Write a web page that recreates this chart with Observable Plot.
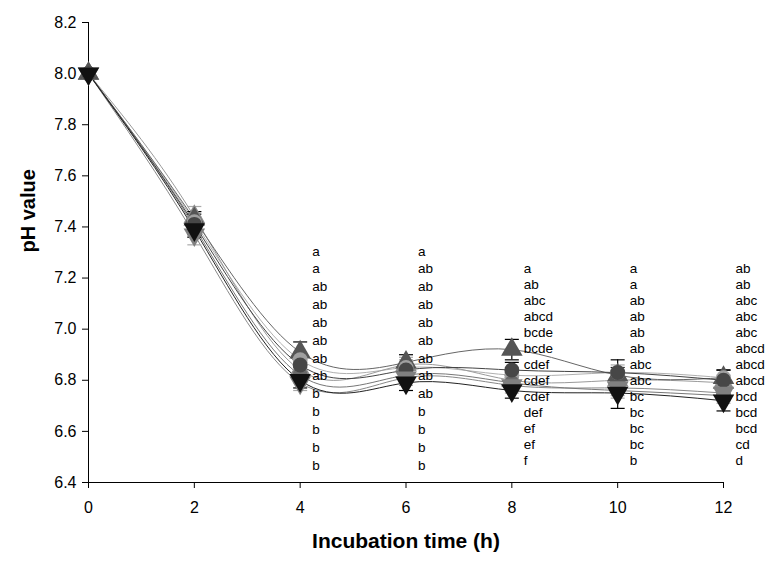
<!DOCTYPE html>
<html><head><meta charset="utf-8">
<script src="https://cdn.jsdelivr.net/npm/d3@7"></script>
<script src="https://cdn.jsdelivr.net/npm/@observablehq/plot@0.6"></script>
<style>
body{margin:0;background:#fff;}
svg{font-family:"Liberation Sans",Arial,sans-serif;}
</style></head>
<body><div id="chart"></div>
<script>
const times = [0, 2, 4, 6, 8, 10, 12];
const xTicks = [0, 2, 4, 6, 8, 10, 12];
const yTicks = [6.4, 6.6, 6.8, 7.0, 7.2, 7.4, 7.6, 7.8, 8.0, 8.2];

const seriesNames = ["T1", "T2", "T3", "T4", "T5", "T6", "T7"];
const seriesShape = ["circle", "triangle", "triangleDown", "circle", "triangle", "circle", "triangleDown"];
const seriesColor = ["#a0a0a0", "#8a8a8a", "#808080", "#6a6a6a", "#555555", "#474747", "#111111"];
const lineColor = ["#b0b0b0", "#9a9a9a", "#888888", "#777777", "#666666", "#444444", "#222222"];
const seriesValues = [
  [8.00, 7.42, 6.88, 6.85, 6.82, 6.83, 6.81],
  [8.00, 7.44, 6.84, 6.86, 6.80, 6.80, 6.79],
  [8.00, 7.37, 6.79, 6.81, 6.78, 6.77, 6.75],
  [8.00, 7.40, 6.82, 6.82, 6.79, 6.76, 6.74],
  [8.00, 7.43, 6.91, 6.87, 6.92, 6.82, 6.81],
  [8.00, 7.41, 6.86, 6.84, 6.84, 6.83, 6.80],
  [8.00, 7.39, 6.80, 6.79, 6.76, 6.75, 6.72]
];
const seriesErr = [
  [0.01, 0.04, 0.03, 0.03, 0.03, 0.03, 0.03],
  [0.01, 0.04, 0.03, 0.03, 0.03, 0.03, 0.03],
  [0.01, 0.04, 0.03, 0.03, 0.03, 0.03, 0.03],
  [0.01, 0.04, 0.03, 0.03, 0.03, 0.03, 0.03],
  [0.01, 0.03, 0.04, 0.03, 0.04, 0.03, 0.03],
  [0.01, 0.04, 0.03, 0.03, 0.03, 0.05, 0.04],
  [0.01, 0.03, 0.03, 0.03, 0.03, 0.06, 0.04]
];

const letterTimes = [4, 6, 8, 10, 12];
const letters4 = ["a","a","ab","ab","ab","ab","ab","ab","b","b","b","b","b"];
const letters6 = ["a","ab","ab","ab","ab","ab","ab","ab","ab","b","b","b","b"];
const letters8 = ["a","ab","abc","abcd","bcde","bcde","cdef","cdef","cdef","def","ef","ef","f"];
const letters10 = ["a","a","ab","ab","ab","ab","abc","abc","bc","bc","bc","bc","b"];
const letters12 = ["ab","ab","abc","abc","abc","abcd","abcd","abcd","bcd","bcd","bcd","cd","d"];
const letterCols = [letters4, letters6, letters8, letters10, letters12];
const letterTop = [7.305, 7.305, 7.235, 7.235, 7.235];
const letterStep = [0.0698, 0.0698, 0.0624, 0.0624, 0.0624];

const rows = [];
seriesNames.forEach((s, i) => times.forEach((t, j) => rows.push({
  series: s, idx: i, t, v: seriesValues[i][j], lo: seriesValues[i][j] - seriesErr[i][j], hi: seriesValues[i][j] + seriesErr[i][j],
  shape: seriesShape[i], color: seriesColor[i], lcolor: lineColor[i]
})));
const letterRows = [];
letterCols.forEach((col, c) => col.forEach((lab, r) => letterRows.push({t: letterTimes[c], y: letterTop[c] - r * letterStep[c], lab})));

const cap = {draw(ctx, size) { const w = Math.sqrt(size / Math.PI); ctx.moveTo(-w, 0); ctx.lineTo(w, 0); }};
const byShape = (s) => rows.filter(d => d.shape === s);

const marks = [
  Plot.ruleY([6.4], {stroke: "#000"}),
  Plot.ruleX([0], {stroke: "#000"}),
  Plot.axisX({ticks: xTicks, tickSize: 6, tickPadding: 13, fontSize: 16, label: null, tickFormat: d => String(d)}),
  Plot.axisY({ticks: yTicks, tickSize: 6, tickPadding: 6, fontSize: 16, label: null, tickFormat: d3.format(".1f")}),
  Plot.line(rows, {x: "t", y: "v", z: "series", stroke: "lcolor", strokeWidth: 1, curve: "natural"}),
  Plot.ruleX(rows, {x: "t", y1: "lo", y2: "hi", stroke: d => d.idx >= 4 ? "#000" : "#999", strokeWidth: 1.2}),
  Plot.dot(rows, {x: "t", y: "lo", symbol: cap, r: 7, stroke: d => d.idx >= 4 ? "#000" : "#aaa", fill: "none", strokeWidth: 1.2}),
  Plot.dot(rows, {x: "t", y: "hi", symbol: cap, r: 7, stroke: d => d.idx >= 4 ? "#000" : "#aaa", fill: "none", strokeWidth: 1.2}),
  Plot.dot(byShape("triangle"), {x: "t", y: "v", symbol: "triangle", r: 8, fill: "color", stroke: "none"}),
  Plot.dot(byShape("circle"), {x: "t", y: "v", symbol: "circle", r: 7.5, fill: "color", stroke: "none"}),
  Plot.dot(byShape("triangleDown"), {x: "t", y: "v", symbol: "triangle", rotate: 180, r: 8, fill: "color", stroke: "none"}),
  Plot.text(letterRows, {x: "t", y: "y", text: "lab", dx: 12, textAnchor: "start", fontSize: 13.5, fill: "#000"}),
  Plot.text(["Incubation time (h)"], {frameAnchor: "bottom", dy: 65, fontSize: 21, fontWeight: "bold", fill: "#000"}),
  Plot.text(["pH value"], {frameAnchor: "left", dx: -60, rotate: -90, fontSize: 20, fontWeight: "bold", fill: "#000"})
];

const chart = Plot.plot({
  width: 767, height: 569,
  marginLeft: 88, marginRight: 44, marginTop: 22, marginBottom: 87,
  x: {domain: [0, 12]},
  y: {domain: [6.4, 8.2]},
  style: {fontFamily: "'Liberation Sans', Arial, sans-serif", color: "#000", background: "#fff"},
  marks
});
document.getElementById("chart").appendChild(chart);
</script></body></html>
